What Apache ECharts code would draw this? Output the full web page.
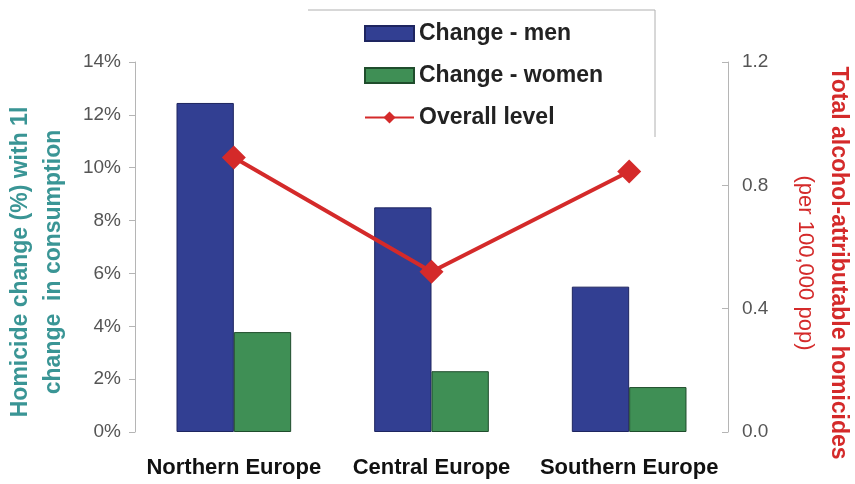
<!DOCTYPE html>
<html>
<head>
<meta charset="utf-8">
<script src="https://cdn.jsdelivr.net/npm/echarts@6/dist/echarts.min.js"></script>
<style>html,body{margin:0;padding:0;background:#fff}#c{width:855px;height:484px}</style>
</head>
<body>
<div id="c"></div>
<script>
var categories = ['Northern Europe', 'Central Europe', 'Southern Europe'];
var changeMen = [12.45, 8.5, 5.5];
var changeWomen = [3.78, 2.3, 1.7];
var overallLevel = [0.89, 0.52, 0.845];
var leftTicks = {min: 0, max: 14, interval: 2};
var rightTicks = {min: 0, max: 1.2, interval: 0.4};

var chart = echarts.init(document.getElementById('c'));
var font = 'Liberation Sans, Arial, sans-serif';
chart.setOption({
  animation: false,
  textStyle: {fontFamily: font},
  grid: {left: 135, right: 127, top: 62, bottom: 52, containLabel: false, outerBoundsMode: 'none'},
  legend: {
    orient: 'vertical', left: 359, top: 17, itemWidth: 49, itemHeight: 15, itemGap: 19,
    textStyle: {fontSize: 23, fontWeight: 'bold', color: '#222', fontFamily: font},
    data: [{name: 'Change - men', icon: 'rect'}, {name: 'Change - women', icon: 'rect'}, {name: 'Overall level'}]
  },
  graphic: [{
    type: 'polyline', silent: true,
    shape: {points: [[308, 10], [655, 10], [655, 137]]},
    style: {stroke: '#b0b0b0', lineWidth: 1, fill: null}
  }],
  xAxis: {
    type: 'category', data: categories,
    axisLine: {show: false}, axisTick: {show: false},
    axisLabel: {interval: 0, fontSize: 22, fontWeight: 'bold', color: '#111', margin: 25, fontFamily: font}
  },
  yAxis: [{
    type: 'value', min: leftTicks.min, max: leftTicks.max, interval: leftTicks.interval,
    position: 'left',
    axisLine: {show: true, lineStyle: {color: '#b5b5b5'}},
    axisTick: {show: true, length: 6, lineStyle: {color: '#b5b5b5'}},
    splitLine: {show: false},
    axisLabel: {formatter: '{value}%', fontSize: 19, color: '#555', margin: 14, fontFamily: font},
    name: 'Homicide change (%) with 1l\nchange  in consumption',
    nameLocation: 'middle', nameGap: 65,
    nameTextStyle: {fontSize: 23, fontWeight: 'bold', color: '#3a9595', lineHeight: 33, fontFamily: font, padding: [0, 0, 0, -30]}
  }, {
    type: 'value', min: rightTicks.min, max: rightTicks.max, interval: rightTicks.interval,
    position: 'right',
    axisLine: {show: true, lineStyle: {color: '#b5b5b5'}},
    axisTick: {show: true, length: 6, inside: true, lineStyle: {color: '#b5b5b5'}},
    splitLine: {show: false},
    axisLabel: {formatter: function (v) { return v.toFixed(1); }, fontSize: 19, color: '#555', margin: 14, fontFamily: font},
    name: '{a|Total alcohol-attributable homicides}\n{b|(per 100,000 pop)}',
    nameLocation: 'middle', nameGap: 61, nameRotate: -90,
    nameTextStyle: {
      fontFamily: font, lineHeight: 33, padding: [0, 0, 0, 32],
      rich: {
        a: {fontSize: 23, fontWeight: 'bold', color: '#d42a2a', fontFamily: font, lineHeight: 33},
        b: {fontSize: 22, color: '#d42a2a', fontFamily: font, lineHeight: 33}
      }
    }
  }],
  series: [{
    name: 'Change - men', type: 'bar', data: changeMen, yAxisIndex: 0,
    barGap: '0%', barCategoryGap: '42%',
    itemStyle: {color: '#323f92', borderColor: '#1e2560', borderWidth: 1}
  }, {
    name: 'Change - women', type: 'bar', data: changeWomen, yAxisIndex: 0,
    itemStyle: {color: '#3f8f55', borderColor: '#1f4d2c', borderWidth: 1}
  }, {
    name: 'Overall level', type: 'line', data: overallLevel, yAxisIndex: 1,
    symbol: 'diamond', symbolSize: 24,
    lineStyle: {color: '#d42a2a', width: 4},
    itemStyle: {color: '#d42a2a'}
  }]
});
</script>
</body>
</html>
